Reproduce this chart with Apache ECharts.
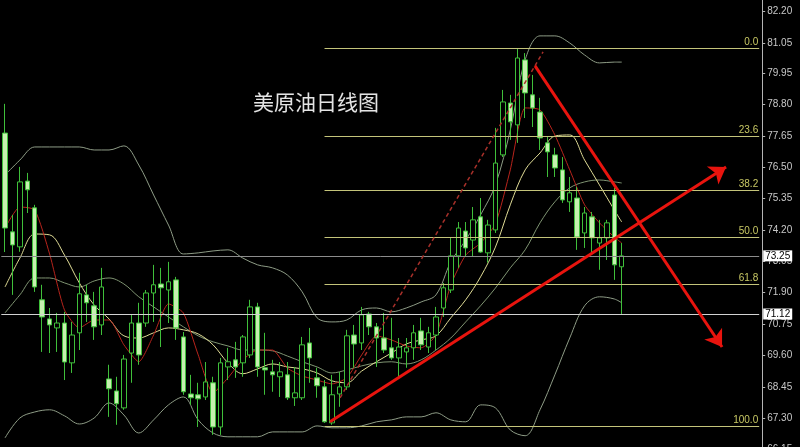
<!DOCTYPE html>
<html><head><meta charset="utf-8">
<script src="https://cdn.jsdelivr.net/npm/echarts@6/dist/echarts.min.js"></script>
<style>html,body{margin:0;padding:0;background:#000;}#c{width:800px;height:447px;}</style>
</head><body><div id="c"></div>
<script>
// ---- candle data (daily OHLC) ----
const opens  = [77.75,74.13,73.58,75.99,75.01,71.64,70.94,70.61,70.79,69.33,70.43,71.82,71.42,70.72,68.74,68.30,67.68,69.69,70.79,70.79,71.89,72.22,72.00,72.37,70.28,68.19,68.16,68.08,68.60,66.98,69.18,69.44,69.33,69.62,71.38,69.15,69.00,68.82,68.89,68.05,68.05,70.06,68.78,68.45,67.13,68.19,68.45,70.35,70.06,71.12,70.65,70.24,69.88,69.51,69.73,69.88,70.50,69.91,70.35,71.34,72.00,73.25,74.16,73.83,74.68,73.36,74.20,76.95,78.85,78.05,80.43,79.15,78.52,77.39,76.95,76.40,75.23,75.37,74.09,74.68,73.72,73.91,75.48,72.85];
const highs  = [78.82,74.75,76.51,76.29,75.12,72.19,71.34,71.16,71.20,70.83,72.63,72.19,71.93,72.81,69.26,68.82,69.62,71.09,71.53,72.00,72.92,72.81,73.03,72.48,70.46,68.89,68.60,69.36,68.82,69.51,69.88,70.10,70.35,71.64,71.53,70.43,69.44,69.36,69.36,69.18,70.28,70.61,69.15,68.70,68.89,69.00,70.54,70.72,71.38,71.20,70.79,71.16,70.98,70.24,70.24,70.72,70.98,70.65,71.38,72.26,73.91,74.49,74.49,75.04,75.37,74.57,77.94,79.33,79.15,80.85,80.68,79.88,79.04,77.61,77.21,76.87,76.14,75.78,75.04,74.86,74.57,74.57,75.74,73.72];
const lows   = [73.39,71.82,73.40,74.82,71.93,69.73,69.69,69.73,68.70,68.96,69.80,70.83,70.17,70.35,67.35,67.06,67.61,68.60,69.26,70.65,70.83,69.91,70.79,70.17,68.16,67.79,66.98,67.97,66.69,66.69,68.70,68.78,68.82,69.51,68.82,68.16,68.27,68.08,67.97,67.75,67.97,68.60,68.05,67.13,67.06,67.72,68.34,69.15,69.80,70.35,69.18,69.69,69.44,68.78,69.15,69.44,69.80,69.69,69.80,71.01,71.89,72.81,73.21,73.21,73.36,73.00,74.09,76.87,77.50,77.39,78.30,77.97,77.13,76.14,76.14,75.19,74.86,73.47,73.54,73.39,72.74,73.10,72.37,71.12];
const closes = [74.27,73.65,75.96,75.67,72.11,71.01,70.72,70.79,69.36,70.35,71.86,71.53,70.65,72.11,68.38,67.83,69.47,70.79,69.62,71.89,72.19,72.08,72.30,70.61,68.27,68.05,68.01,68.63,66.98,69.33,69.37,69.18,70.28,71.38,69.18,69.07,68.89,69.00,68.05,68.23,69.99,69.51,68.49,67.17,68.16,68.45,70.32,70.02,71.09,70.65,70.24,69.80,69.51,69.91,69.88,70.43,69.99,70.43,71.01,72.08,73.25,74.27,73.54,74.57,73.39,74.38,76.65,78.89,78.16,80.50,79.22,78.67,77.57,77.06,76.47,75.30,75.56,73.94,74.82,73.91,73.91,74.46,72.92,73.25];

// ---- indicator lines, sampled at candle indices ----
const lineIdx  = [0,2,4,6,8,10,12,14,16,18,20,22,24,26,28,30,32,34,36,38,40,42,44,46,48,50,52,54,56,58,60,62,64,66,68,70,72,74,76,78,80,82,83];
const bbUpper  = [76.21,76.76,77.24,77.24,77.24,77.24,77.13,77.13,77.28,76.58,75.48,74.38,73.32,73.36,73.43,73.47,73.17,72.92,72.81,72.55,71.93,70.98,70.83,70.90,71.27,71.34,71.20,71.34,71.56,71.82,73.03,73.83,74.75,75.85,77.86,80.43,81.31,81.31,81.05,80.61,80.32,80.35,80.35];
const bbMiddle = [71.16,71.82,72.44,72.44,72.26,72.11,72.33,72.44,72.22,71.75,71.38,71.01,70.65,70.32,70.10,69.95,69.80,69.80,69.77,69.58,69.37,69.18,68.96,69.07,69.22,69.33,69.37,69.29,69.44,69.80,70.24,70.83,71.42,72.07,72.81,73.47,74.46,75.23,75.74,75.96,76.03,75.96,75.92];
const bbLower  = [66.58,67.31,67.53,67.61,67.39,67.09,67.31,67.86,67.42,66.76,67.24,67.79,68.08,67.24,66.76,66.62,66.62,66.62,66.80,66.80,66.80,67.02,66.95,66.95,67.02,67.17,67.24,67.35,67.35,67.50,67.24,67.17,67.79,67.68,66.87,66.66,67.61,68.89,70.24,71.42,71.75,71.67,71.53];
const maYellow = [72.11,73.17,74.05,74.02,73.28,72.26,71.45,70.94,70.32,70.24,70.43,70.61,70.54,70.39,69.99,69.33,68.93,69.11,69.29,69.18,69.11,68.96,68.67,68.60,69.03,69.37,69.69,70.02,70.17,70.32,70.98,71.64,72.48,73.57,75.12,76.40,77.02,77.64,77.68,76.76,75.85,74.93,74.49];
const maRed    = [74.27,75.04,74.93,73.32,71.27,70.61,70.90,70.90,69.99,69.37,70.35,71.49,71.16,69.62,68.23,68.78,69.44,69.80,69.80,69.14,68.85,68.70,68.56,68.78,69.62,70.32,70.17,69.95,69.88,70.35,72.19,73.28,73.72,74.42,76.40,78.67,78.60,77.68,76.40,75.12,74.46,73.94,73.72];

// ---- axis ticks, levels, annotations ----
const yTicks = [82.20,81.05,79.95,78.80,77.65,76.50,75.35,74.20,73.05,71.90,70.75,69.60,68.45,67.30,66.15];
const fibNames  = ['0.0','23.6','38.2','50.0','61.8','100.0'];
const fibLevels = [80.85,77.63,75.64,73.93,72.21,67.00];
const fibStart = 43;
const priceLines = [73.25, 71.12];
const upArrow   = [[43.74,67.17],[97.04,76.51]];
const downArrow = [[71.33,80.21],[96.5,69.91]];
const dashedTrend = [[45.09,68.05],[72.41,80.72]];
const chartTitle = '美原油日线图';
const slotCount = 102;
const categories = Array.from({length: slotCount}, (_, i) => 'D' + i);

const candleData = opens.map((o, i) => [o, closes[i], lows[i], highs[i]]);
const toLine = arr => lineIdx.map((k, j) => [k, arr[j]]);

function lineSeries(name, arr, color, smooth) {
  return {name, type:'line', data: toLine(arr), showSymbol:false, symbol:'none', smooth: smooth,
    lineStyle:{color, width:1}, silent:true, z:3};
}

const chart = echarts.init(document.getElementById('c'), null, {renderer:'canvas'});
chart.setOption({
  backgroundColor:'#000000',
  animation:false,
  title:{text: chartTitle, left:248, top:87,
    textStyle:{color:'#e4e4e4', fontSize:21, fontWeight:'normal', fontFamily:'"Noto Sans CJK SC", sans-serif'}},
  grid:{left:1.3, right:40.8, top:0, height:451, containLabel:false, outerBoundsMode:'none'},
  xAxis:[
    {type:'category', data: categories, show:false, boundaryGap:true},
    {type:'value', min:-0.5, max: slotCount - 0.5, show:false}
  ],
  yAxis:{type:'value', position:'right', offset:3, min:66.10, max:82.625,
    splitLine:{show:false},
    axisLine:{show:true, onZero:false, lineStyle:{color:'#b4b4b4', width:1}},
    axisTick:{show:true, length:3, customValues: yTicks, lineStyle:{color:'#b4b4b4'}},
    axisLabel:{customValues: yTicks, color:'#c8c8c8', fontSize:10, fontFamily:'"Liberation Sans", sans-serif', margin:5,
      formatter: v => v.toFixed(2)}
  },
  series:[
    lineSeries('bbUpper', bbUpper, '#8e9c86', 0.35),
    lineSeries('bbMiddle', bbMiddle, '#7f9472', 0.35),
    lineSeries('bbLower', bbLower, '#8e9c86', 0.35),
    lineSeries('maYellow', maYellow, '#e0dc96', 0.35),
    lineSeries('maRed', maRed, '#b8241c', 0.2),
    {name:'candles', type:'candlestick', data: candleData, barWidth:5, z:4,
      itemStyle:{color:'#000000', color0:'#c6f0b0', borderColor:'#3fbf3a', borderColor0:'#3fbf3a', borderWidth:1}},
    {name:'priceLines', type:'line', data:[], silent:true, z:2,
      markLine:{silent:true, symbol:['none','none'], animation:false,
        label:{show:true, position:'end', formatter:'{b}', backgroundColor:'#ffffff', color:'#000000',
          fontSize:10, fontFamily:'"Liberation Sans", sans-serif', padding:[1,2,0,2], distance:4},
        data: priceLines.map((v, i) => ({name: v.toFixed(2), yAxis: v,
          lineStyle:{color: i === 0 ? '#8c8c8c' : '#d2d2d2', width:1, type:'solid'}}))}},
    {name:'fib', type:'line', xAxisIndex:1, data:[], silent:true, z:2,
      markLine:{silent:true, symbol:['none','none'], animation:false,
        lineStyle:{color:'#c4c47a', width:1, type:'solid'},
        label:{show:true, position:'insideEndTop', formatter:'{b}', color:'#c8c864', fontSize:10,
          fontFamily:'"Liberation Sans", sans-serif', distance:1},
        data: fibLevels.map((v, i) => [
          {name: fibNames[i], coord:[fibStart, v]},
          {name: fibNames[i], coord:[slotCount - 0.5, v]}])}},
    {name:'trend', type:'line', xAxisIndex:1, data:[], silent:true, z:5,
      markLine:{silent:true, animation:false, label:{show:false},
        data:[
          [{coord: dashedTrend[0], symbol:'none', lineStyle:{color:'#a8302a', width:1.5, type:[4,3]}},
           {coord: dashedTrend[1], symbol:'none', lineStyle:{color:'#a8302a', width:1.5, type:[4,3]}}],
          [{coord: upArrow[0], symbol:'none', lineStyle:{color:'#e8140e', width:3, type:'solid'}},
           {coord: upArrow[1], symbol:'arrow', symbolSize:16, lineStyle:{color:'#e8140e', width:3, type:'solid'}}],
          [{coord: downArrow[0], symbol:'none', lineStyle:{color:'#e8140e', width:3, type:'solid'}},
           {coord: downArrow[1], symbol:'arrow', symbolSize:16, lineStyle:{color:'#e8140e', width:3, type:'solid'}}]
        ]}}
  ]
});
</script>
</body></html>
